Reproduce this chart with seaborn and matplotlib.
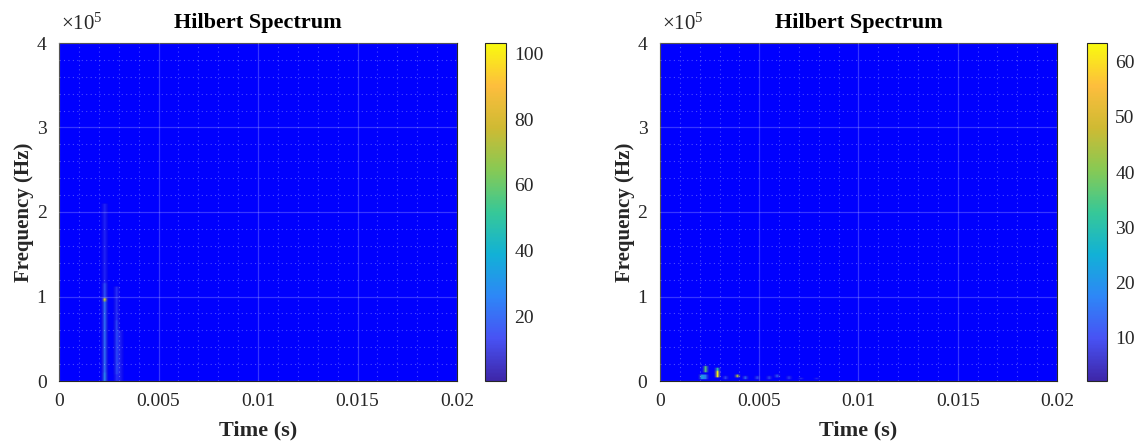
import numpy as np
import matplotlib
matplotlib.use("Agg")
import matplotlib.pyplot as plt
from matplotlib.colors import LinearSegmentedColormap
from matplotlib.ticker import MultipleLocator, FuncFormatter, FixedLocator
import seaborn as sns

# ---------------- data ----------------
t_max = 0.02
f_max = 4e5
n_t = 100
n_f = 200

# left panel: ridge segments (time, f_low, f_high, amplitude)
left_t    = [0.00230, 0.00230, 0.00230, 0.00230, 0.00290, 0.00290, 0.00290, 0.00310]
left_flo  = [0.0,     0.0,     0.96e5,  1.16e5,  0.0,     0.08e5,  0.72e5,  0.0]
left_fhi  = [0.96e5,  0.10e5,  1.16e5,  2.10e5,  1.10e5,  0.72e5,  1.10e5,  0.60e5]
left_amp  = [24.0,    28.0,    20.0,    12.0,    14.0,    18.0,    14.0,    10.0]
left_peak_t = [0.00230, 0.00230]
left_peak_f = [0.96e5, 0.94e5]
left_peak_a = [103.0, 70.0]
left_vmin, left_vmax = 0.2, 103.3
left_ticks = [20, 40, 60, 80, 100]
left_full = 26.0      # amplitude at which the spectrum is fully opaque

# right panel: spots (time, f_low, f_high, amplitude)
right_t   = [0.00210, 0.00230, 0.00230, 0.00290, 0.00290, 0.00390, 0.00430, 0.00490, 0.00550, 0.00590, 0.00650, 0.00710, 0.00790, 0.00330]
right_flo = [0.30e4,  1.10e4,  0.30e4,  0.50e4,  1.15e4,  0.40e4,  0.30e4,  0.30e4,  0.20e4,  0.40e4,  0.20e4,  0.20e4,  0.20e4,  0.30e4]
right_fhi = [0.80e4,  1.70e4,  0.70e4,  1.10e4,  1.50e4,  0.80e4,  0.60e4,  0.60e4,  0.50e4,  0.70e4,  0.50e4,  0.40e4,  0.40e4,  0.60e4]
right_amp = [22.0,    36.0,    18.0,    63.0,    30.0,    44.0,    16.0,    14.0,    13.0,    15.0,    12.0,    11.0,    10.0,    13.0]
right_vmin, right_vmax = 2.1, 63.4
right_ticks = [10, 20, 30, 40, 50, 60]
right_full = 20.0

x_ticks = [0, 0.005, 0.01, 0.015, 0.02]
x_ticklabels = ["0", "0.005", "0.01", "0.015", "0.02"]
y_ticks = [0, 1e5, 2e5, 3e5, 4e5]
y_scale = 1e5

title = "Hilbert Spectrum"
xlabel = "Time (s)"
ylabel = "Frequency (Hz)"

# parula-like colormap anchors
parula_pts = [
    (0.000, (0.2422, 0.1504, 0.6603)),
    (0.125, (0.2810, 0.3228, 0.9579)),
    (0.250, (0.1786, 0.5289, 0.9682)),
    (0.375, (0.0689, 0.6948, 0.8394)),
    (0.500, (0.2161, 0.7843, 0.5923)),
    (0.625, (0.5300, 0.7900, 0.3300)),
    (0.750, (0.8100, 0.7300, 0.2000)),
    (0.875, (0.9932, 0.7439, 0.2394)),
    (1.000, (0.9763, 0.9831, 0.0538)),
]

# --------------- build spectra ----------------
def build(ts, flos, fhis, amps, pts=None, pfs=None, pas=None):
    Z = np.zeros((n_f, n_t))
    for t, lo, hi, a in zip(ts, flos, fhis, amps):
        ti = int(t / t_max * n_t)
        i0 = int(np.floor(lo / f_max * n_f))
        i1 = max(int(np.ceil(hi / f_max * n_f)), i0 + 1)
        Z[i0:i1, ti] = np.maximum(Z[i0:i1, ti], a)
    if pts is not None:
        for t, f, a in zip(pts, pfs, pas):
            ti = int(t / t_max * n_t)
            fi = int(f / f_max * n_f)
            Z[fi, ti] = max(Z[fi, ti], a)
    return Z

Z_left = build(left_t, left_flo, left_fhi, left_amp, left_peak_t, left_peak_f, left_peak_a)
Z_right = build(right_t, right_flo, right_fhi, right_amp)

# --------------- plotting ----------------
sns.set_theme(style="white")
plt.rcParams["font.family"] = ["Liberation Serif", "DejaVu Serif"]
plt.rcParams["mathtext.fontset"] = "custom"
plt.rcParams["mathtext.rm"] = "Liberation Serif"
plt.rcParams["mathtext.it"] = "Liberation Serif:italic"

cmap = LinearSegmentedColormap.from_list("parula", parula_pts, N=256)

fig = plt.figure(figsize=(11.37, 4.45), dpi=100)

W, H = 1137.0, 445.0
def rect(x0, y0, x1, y1):
    return [x0 / W, 1 - y1 / H, (x1 - x0) / W, (y1 - y0) / H]

panels = [
    (Z_left, left_vmin, left_vmax, left_ticks, left_full, rect(59, 43, 457, 381), rect(485, 43, 506, 381)),
    (Z_right, right_vmin, right_vmax, right_ticks, right_full, rect(660, 43, 1057, 381), rect(1087, 43, 1107, 381)),
]

text_col = "#262626"
for Z, vmin, vmax, cticks, full, arect, crect in panels:
    ax = fig.add_axes(arect)
    ax.set_facecolor("#0000ff")
    alpha = np.clip(Z / full, 0, 1)
    im = ax.imshow(Z, cmap=cmap, vmin=vmin, vmax=vmax, origin="lower",
                   extent=[0, t_max, 0, f_max], aspect="auto", alpha=alpha,
                   interpolation="bilinear", interpolation_stage="rgba", zorder=0)
    ax.set_xlim(0, t_max)
    ax.set_ylim(0, f_max)
    ax.xaxis.set_major_locator(FixedLocator(x_ticks))
    ax.set_xticklabels(x_ticklabels)
    ax.xaxis.set_minor_locator(MultipleLocator(0.001))
    ax.yaxis.set_major_locator(FixedLocator(y_ticks))
    ax.yaxis.set_minor_locator(MultipleLocator(0.2e5))
    ax.yaxis.set_major_formatter(FuncFormatter(lambda v, p: f"{v / y_scale:g}"))
    ax.text(0.005, 1.025, r"$\times10^{5}$", transform=ax.transAxes,
            fontsize=15, color=text_col, va="bottom", ha="left")
    ax.set_axisbelow(False)
    ax.grid(True, which="major", color="white", alpha=0.22, linewidth=0.9, linestyle="-")
    ax.grid(True, which="minor", color="white", alpha=0.3, linewidth=0.8, linestyle=(0, (1, 3)))
    ax.tick_params(which="both", direction="in", colors=text_col, labelsize=14,
                   top=False, right=False)
    ax.tick_params(which="major", length=4, width=0.8)
    ax.tick_params(axis="x", pad=9)
    ax.tick_params(axis="y", pad=9)
    ax.tick_params(which="minor", length=0)
    for s in ax.spines.values():
        s.set_color("#262626")
        s.set_linewidth(0.8)
    ax.set_title(title, fontsize=16, fontweight="bold", color="black", pad=11)
    ax.set_xlabel(xlabel, fontsize=16, fontweight="bold", color=text_col, labelpad=7)
    ax.set_ylabel(ylabel, fontsize=15, fontweight="bold", color=text_col, labelpad=2)

    cax = fig.add_axes(crect)
    sm = plt.cm.ScalarMappable(cmap=cmap, norm=plt.Normalize(vmin, vmax))
    cb = fig.colorbar(sm, cax=cax)
    cb.set_ticks(cticks)
    cb.ax.tick_params(direction="in", length=4, width=0.8, colors=text_col, labelsize=14, pad=6)
    cb.outline.set_edgecolor("#262626")
    cb.outline.set_linewidth(0.8)

fig.savefig("out.png", dpi=100)
